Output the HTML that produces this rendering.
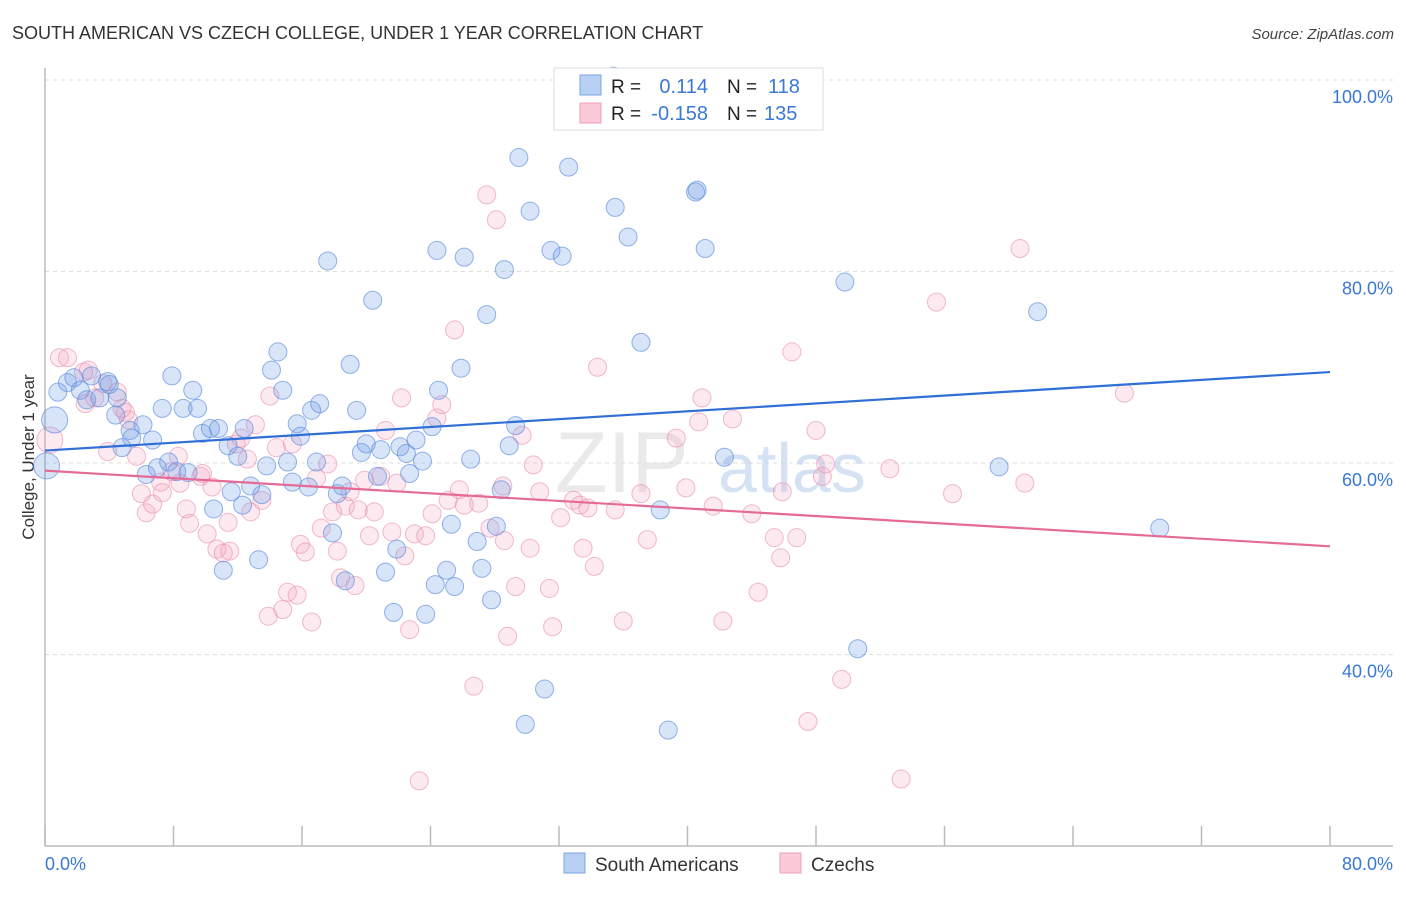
<!DOCTYPE html>
<html><head><meta charset="utf-8">
<style>
body{margin:0;background:#fff;font-family:"Liberation Sans",sans-serif;}
svg text{font-family:"Liberation Sans",sans-serif;}
</style></head>
<body>
<svg id="chart" width="1406" height="892" xmlns="http://www.w3.org/2000/svg">
<text x="12" y="39" font-size="18" fill="#333">SOUTH AMERICAN VS CZECH COLLEGE, UNDER 1 YEAR CORRELATION CHART</text>
<text x="1394" y="39" font-size="15" font-style="italic" fill="#444" text-anchor="end">Source: ZipAtlas.com</text>
<text transform="translate(34,457) rotate(-90)" font-size="17" fill="#333" text-anchor="middle">College, Under 1 year</text>
<g id="grid"></g>
<g id="axes"></g>
<text x="555" y="492" font-size="86" font-family="Liberation Serif" fill="#ddd" opacity="0.6">ZIP</text>
<text x="718" y="492" font-size="70" fill="#b8d0ee" opacity="0.6">atlas</text>
<g id="pink"></g>
<g id="blue"></g>
<g id="trends"></g>
<g>
<rect x="554" y="68" width="269" height="62" fill="#fff" stroke="#ddd"/>
<rect x="580" y="75" width="21" height="20" fill="#b7d0f3" stroke="#7aa6e4"/>
<rect x="580" y="103" width="21" height="20" fill="#fbc9d8" stroke="#ef9fb8"/>
<text x="611" y="93" font-size="19" fill="#222">R =</text>
<text x="708" y="93" font-size="20" fill="#3a78d6" text-anchor="end">0.114</text>
<text x="727" y="93" font-size="19" fill="#222">N =</text>
<text x="768" y="93" font-size="20" fill="#3a78d6">118</text>
<text x="611" y="120" font-size="19" fill="#222">R =</text>
<text x="708" y="120" font-size="20" fill="#3a78d6" text-anchor="end">-0.158</text>
<text x="727" y="120" font-size="19" fill="#222">N =</text>
<text x="764" y="120" font-size="20" fill="#3a78d6">135</text>
</g>
<g>
<rect x="564" y="853" width="21" height="20" fill="#b7d0f3" stroke="#7aa6e4"/>
<text x="595" y="871" font-size="19" fill="#333">South Americans</text>
<rect x="780" y="853" width="21" height="20" fill="#fbc9d8" stroke="#ef9fb8"/>
<text x="811" y="871" font-size="19" fill="#333">Czechs</text>
</g>
</svg>
<script>
const blueX=[0.6,0.1,0.8,1.4,1.8,2.9,2.2,3.4,3.9,2.6,4.4,4.5,5.3,6.1,5.4,6.7,4.8,6.3,7.3,7.9,8.6,9.2,9.5,9.8,10.3,10.8,11.4,12.0,12.4,7.7,7.0,8.2,8.9,10.5,11.1,11.6,12.3,12.8,13.5,13.3,13.8,14.1,14.5,14.8,15.1,15.4,15.7,15.9,16.4,16.6,17.1,16.9,17.6,17.9,18.2,18.5,18.7,19.0,19.4,19.7,20.0,20.4,20.7,20.9,21.2,21.7,21.9,22.1,22.5,22.7,23.1,23.5,23.7,24.1,24.4,24.5,24.3,25.0,25.3,25.5,25.9,26.1,26.5,26.9,27.2,27.5,27.8,28.1,28.4,28.6,28.9,29.3,29.5,29.9,30.2,31.1,31.5,32.2,32.6,35.5,36.3,37.1,38.3,38.8,40.5,40.6,41.1,42.3,49.8,50.6,59.4,61.8,69.4,4.0,35.4,39.4];
const blueY=[64.5,59.7,67.4,68.4,68.9,69.1,67.6,66.8,68.5,66.6,65.0,66.8,63.4,64.0,62.6,62.4,61.6,58.8,65.7,69.1,65.7,67.6,65.7,63.1,63.6,63.6,61.8,60.7,63.6,60.1,59.5,59.1,59.0,55.2,48.8,57.0,55.6,57.6,56.7,49.9,59.7,69.7,71.6,67.6,60.1,58.0,64.1,62.8,57.5,65.5,66.2,60.1,81.1,52.7,56.8,57.6,47.7,70.3,65.5,61.1,62.0,77.0,58.6,61.4,48.6,44.4,51.0,61.7,61.0,58.9,62.4,60.2,44.2,63.8,82.2,67.6,47.3,48.8,53.6,47.1,69.9,81.5,60.4,51.8,49.0,75.5,45.7,53.4,57.2,80.2,61.8,63.9,91.9,32.7,86.3,36.4,82.2,81.6,90.9,86.7,83.6,72.6,55.1,32.1,88.3,88.5,82.4,60.6,78.9,40.6,59.6,75.8,53.2,68.2,100.4,100.2];
const pinkX=[0.3,0.9,1.4,2.4,2.7,2.5,3.1,3.6,4.5,4.8,5.0,5.2,3.9,5.7,6.0,6.3,6.7,7.2,7.3,7.9,8.3,8.4,8.8,9.0,9.7,9.8,10.1,10.4,10.7,11.1,11.4,11.5,11.9,12.2,12.6,12.8,13.1,13.5,13.9,14.0,14.4,14.8,15.1,15.4,15.7,15.9,16.2,16.6,16.9,17.2,17.6,17.9,18.2,18.4,18.7,19.0,19.3,19.5,19.9,20.2,20.5,20.9,21.2,21.6,21.9,22.2,22.4,22.7,23.0,23.3,23.7,24.1,24.4,24.7,25.1,25.5,25.8,26.1,26.7,27.0,27.5,27.7,28.1,28.5,28.6,28.8,29.3,29.7,30.2,30.4,30.8,31.4,31.6,32.1,32.9,33.3,33.5,33.8,34.2,34.4,35.5,36.0,37.1,37.5,39.3,39.9,40.7,40.9,41.6,42.2,42.8,44.0,44.4,45.4,45.8,45.9,46.5,46.8,47.5,48.0,48.4,48.6,49.6,52.6,53.3,55.5,56.5,60.7,61.0,67.2];
const pinkY=[62.4,71.0,71.0,69.5,69.7,66.2,66.8,68.3,67.4,65.7,65.3,64.5,61.2,60.7,56.8,54.8,55.7,58.0,56.9,59.1,60.7,57.9,55.2,53.7,58.6,58.9,52.6,57.5,51.0,50.6,53.8,50.8,62.0,62.6,60.4,54.9,64.0,56.1,44.0,67.0,61.6,44.7,46.5,62.0,46.2,51.5,50.7,43.4,58.4,53.2,59.9,54.9,50.8,48.0,55.5,57.0,47.2,55.1,58.2,52.4,54.9,58.6,63.4,52.8,57.9,66.8,50.3,42.6,52.6,26.8,52.4,54.7,64.7,66.1,56.1,73.9,57.2,55.6,36.7,55.8,88.0,53.2,85.4,57.6,51.9,41.9,47.1,62.9,51.1,59.8,57.0,46.9,42.9,54.3,56.1,55.6,51.1,55.3,49.2,70.0,55.1,43.5,56.8,52.0,62.6,57.4,64.3,66.8,55.5,43.5,64.6,54.7,46.5,52.2,50.1,57.0,71.6,52.2,33.0,63.4,58.6,59.9,37.4,59.4,27.0,76.8,56.8,82.4,57.9,67.3];
const blueTrend=[61.3,69.5];
const pinkTrend=[59.2,51.3];
const yTicks=[100,80,60,40];
const xTicks=[0,8,16,24,32,40,48,56,64,72,80];

const NS='http://www.w3.org/2000/svg';
const sx=v=>45+v*1285/80;
const sy=v=>80+(100-v)*191.5/20;
function mk(tag,attrs,parent){const e=document.createElementNS(NS,tag);for(const k in attrs)e.setAttribute(k,attrs[k]);parent.appendChild(e);return e;}
const grid=document.getElementById('grid'),axes=document.getElementById('axes');
yTicks.forEach(t=>{
 const l=mk('line',{x1:45,x2:1393,y1:sy(t),y2:sy(t),stroke:'#ddd','stroke-dasharray':'4,4'},grid);
 
 
 const tx=mk('text',{x:1393,y:sy(t)+23,'font-size':18,fill:'#3a78d6','text-anchor':'end'},grid);
 tx.textContent=t.toFixed(1)+'%';
 
 
});
mk('line',{x1:45,x2:45,y1:68,y2:846,stroke:'#bbb','stroke-width':1.5},axes);
mk('line',{x1:45,x2:1393,y1:846,y2:846,stroke:'#bbb','stroke-width':1.5},axes);
xTicks.forEach(t=>{
 const l=mk('line',{x1:sx(t),x2:sx(t),y1:826,y2:846,stroke:'#bbb','stroke-width':1.5},axes);
 
 
});
[[0,'start'],[80,'end']].forEach(([t,a])=>{
 const tx=mk('text',{x:t===0?45:1393,y:870,'font-size':18,fill:'#3a78d6','text-anchor':a},axes);
 tx.textContent=t.toFixed(1)+'%';
 
 
});
function pts(xs,ys,g,fill,stroke,name){
 xs.forEach((x,i)=>{
  const r=(x<0.7)?13:9;
  const c=mk('circle',{cx:sx(x),cy:sy(ys[i]),r:r,fill:fill,stroke:stroke,'stroke-width':1},g);
  
  
 });
}
pts(pinkX,pinkY,document.getElementById('pink'),'rgba(244,160,188,0.22)','rgba(232,140,170,0.6)','czech-point');
pts(blueX,blueY,document.getElementById('blue'),'rgba(110,155,230,0.27)','rgba(90,140,220,0.65)','south-american-point');
const tr=document.getElementById('trends');
const bl=mk('line',{x1:sx(0),y1:sy(blueTrend[0]),x2:sx(80),y2:sy(blueTrend[1]),stroke:'#2f6fd6','stroke-width':2.2},tr);


const pl=mk('line',{x1:sx(0),y1:sy(pinkTrend[0]),x2:sx(80),y2:sy(pinkTrend[1]),stroke:'#e56a96','stroke-width':2.2},tr);


</script>
</body></html>
